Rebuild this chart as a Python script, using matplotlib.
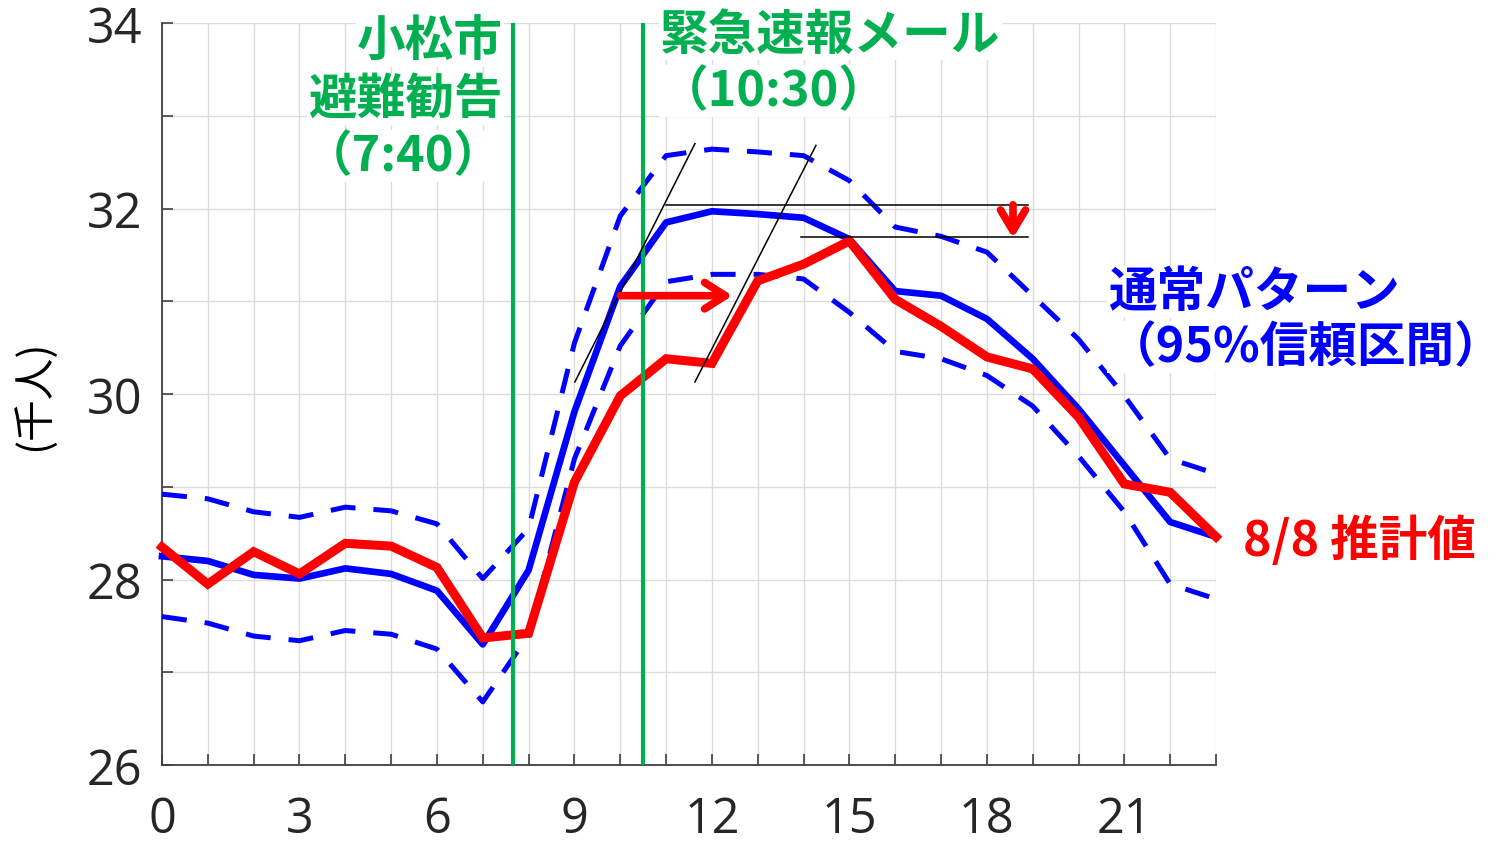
import matplotlib
matplotlib.use('Agg')
import matplotlib.pyplot as plt
from matplotlib.ticker import MultipleLocator

plt.rcParams['font.family'] = ['Noto Sans CJK JP', 'DejaVu Sans']

hours = list(range(24))

normal_mean = [28.25, 28.20, 28.05, 28.01, 28.12, 28.06, 27.88, 27.30, 28.10, 29.81,
               31.16, 31.85, 31.97, 31.94, 31.90, 31.67, 31.11, 31.06, 30.81, 30.38,
               29.84, 29.23, 28.62, 28.46]
normal_upper = [28.92, 28.87, 28.73, 28.67, 28.78, 28.74, 28.60, 28.01, 28.55, 30.55,
                31.92, 32.57, 32.64, 32.61, 32.57, 32.30, 31.80, 31.70, 31.53, 31.06,
                30.59, 29.98, 29.30, 29.14]
normal_lower = [27.60, 27.53, 27.39, 27.34, 27.45, 27.41, 27.25, 26.68, 27.40, 29.30,
                30.52, 31.21, 31.29, 31.29, 31.24, 30.88, 30.46, 30.38, 30.20, 29.87,
                29.33, 28.73, 27.95, 27.79]
estimate_0808 = [28.35, 27.95, 28.30, 28.06, 28.39, 28.36, 28.13, 27.37, 27.42, 29.05,
                 29.98, 30.38, 30.33, 31.22, 31.40, 31.65, 31.02, 30.73, 30.40, 30.27,
                 29.75, 29.03, 28.94, 28.46]

event_times = [7 + 40 / 60, 10.5]

BLUE = '#0000FF'
RED = '#FF0000'
GREEN = '#00B050'

fig = plt.figure(figsize=(15.12, 8.45), dpi=100)
ax = fig.add_axes([162 / 1512, 1 - 766 / 845, (1216 - 162) / 1512, (766 - 24) / 845])

ax.set_xlim(0, 23)
ax.set_ylim(26, 34)
ax.xaxis.set_major_locator(MultipleLocator(3))
ax.xaxis.set_minor_locator(MultipleLocator(1))
ax.yaxis.set_major_locator(MultipleLocator(2))
ax.yaxis.set_minor_locator(MultipleLocator(1))
ax.grid(which='both', color='#dcdcdc', lw=1.0, zorder=0)
ax.set_axisbelow(True)
for side in ['top', 'right']:
    ax.spines[side].set_visible(False)
for side in ['left', 'bottom']:
    ax.spines[side].set_color('#404040')
    ax.spines[side].set_linewidth(1.3)
ax.tick_params(which='both', direction='in', length=8, width=1.2, color='#404040')
ax.tick_params(axis='both', labelsize=35, labelcolor='#262626')
ax.tick_params(axis='x', pad=21)
ax.tick_params(axis='y', pad=14)
for lab in ax.get_xticklabels() + ax.get_yticklabels():
    lab.set_family(['Open Sans', 'DejaVu Sans'])

dash = (0, (5, 3.6))
ax.plot(hours, normal_upper, color=BLUE, lw=3.6, linestyle=dash, clip_on=False, zorder=3)
ax.plot(hours, normal_lower, color=BLUE, lw=3.6, linestyle=dash, clip_on=False, zorder=3)
ax.plot(hours, normal_mean, color=BLUE, lw=4.8, clip_on=False, zorder=4)
ax.plot(hours, estimate_0808, color=RED, lw=6.5, clip_on=False, zorder=5,
        solid_joinstyle='miter')

for t in event_times:
    ax.axvline(t, color=GREEN, lw=3, zorder=6)

# black guide lines
ax.plot([9.01, 11.63], [30.13, 32.70], color='black', lw=1.1, zorder=7)
ax.plot([11.63, 14.27], [30.13, 32.68], color='black', lw=1.1, zorder=7)
ax.plot([11.0, 18.9], [32.04, 32.04], color='black', lw=1.1, zorder=7)
ax.plot([13.94, 18.9], [31.69, 31.69], color='black', lw=1.1, zorder=7)

# red arrows
arrow = dict(arrowstyle='->,head_length=1.5,head_width=0.95', color=RED, lw=5.5,
             capstyle='round', joinstyle='round', shrinkA=0, shrinkB=0)
ax.annotate('', xy=(12.45, 31.06), xytext=(10.0, 31.06), arrowprops=arrow, zorder=8)
ax.annotate('', xy=(18.57, 31.68), xytext=(18.57, 32.04),
            arrowprops=dict(arrow, arrowstyle='->,head_length=1.5,head_width=0.9'), zorder=8)

ax.set_ylabel('(千人)', fontsize=30, color='black', labelpad=22)

bold = dict(fontsize=35, fontweight='bold', va='center', zorder=9)
box = dict(facecolor='white', edgecolor='none', pad=1)


def ftext(px, py, s, color, ha='left'):
    fig.text(px / 1512, 1 - py / 845, s, color=color, ha=ha, bbox=box, **bold)


ftext(503, 42, '小松市', GREEN, ha='right')
ftext(503, 100, '避難勧告', GREEN, ha='right')
ftext(503, 157, '（7:40）', GREEN, ha='right')
ftext(660, 35, '緊急速報メール', GREEN)
ftext(660, 92, '（10:30）', GREEN)
ftext(1108, 293, '通常パターン', BLUE)
ftext(1108, 348, '（95%信頼区間）', BLUE)
ftext(1243, 541, '8/8 推計値', RED)

fig.savefig('out.png', dpi=100)
